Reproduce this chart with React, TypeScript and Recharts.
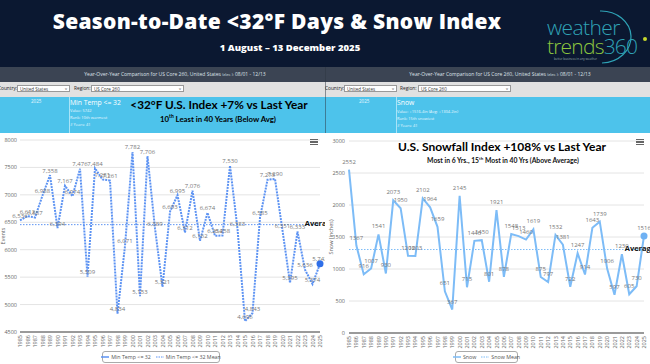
import React from 'react';
import { LineChart, Line, XAxis, YAxis, CartesianGrid, LabelList } from 'recharts';

const years = ['1985','1986','1987','1988','1989','1990','1991','1992','1993','1994','1995','1996','1997','1998','1999','2000','2001','2002','2003','2004','2005','2006','2007','2008','2009','2010','2011','2012','2013','2014','2015','2016','2017','2018','2019','2020','2021','2022','2023','2024','2025'];
const minTempDays = [6536, 6612, 6587, 6988, 7358, 6394, 7167, 6974, 7476, 5509, 7484, 7281, 7261, 4834, 6071, 7782, 5153, 7706, 6389, 5321, 6693, 6995, 6312, 7076, 6162, 6674, 6254, 6258, 7530, 6383, 4696, 4843, 6585, 7275, 7290, 6351, 5395, 6333, 5636, 5374, 5742];
const minTempMean = 6457;
const snowInches = [2552, 1367, 916, 1007, 1541, 930, 2073, 1950, 1208, 1203, 2102, 1964, 1659, 651, 367, 2145, 715, 1440, 1450, 801, 1921, 878, 1548, 1513, 1460, 1619, 875, 797, 1532, 1381, 722, 1247, 914, 1643, 1739, 1006, 597, 1230, 605, 730, 1516];
const snowMean = 1304.2;
const tempTicks = [4500, 5000, 5500, 6000, 6500, 7000, 7500, 8000];
const snowTicks = [0, 500, 1000, 1500, 2000, 2500, 3000];

const tempData = years.map((y, i) => ({ year: y, v: minTempDays[i], mean: minTempMean }));
const snowData = years.map((y, i) => ({ year: y, v: snowInches[i], mean: snowMean }));

const FONT = '"Open Sans", Lato, sans-serif';
const LAST = years.length - 1;
const TEMP_BLUE = '#5d93f3';
const SNOW_BLUE = '#7dbcf7';

const getXY = (p: any) => ({ x: p.x ?? p.viewBox?.x, y: p.y ?? p.viewBox?.y });

const YearTick = (props: any) => {
  const { x, y, payload } = props;
  return (
    <text x={x} y={y} transform={`rotate(-90 ${x} ${y})`} textAnchor="end" dy={2} fontSize={5.5} fill="#666" fontFamily={FONT}>
      {payload.value}
    </text>
  );
};

const makeValueLabel = (fmt: (v: number) => string, off: number) => (props: any) => {
  const { x, y } = getXY(props);
  if (x == null || y == null) return null;
  return (
    <text x={x} y={y - off} textAnchor="middle" fontSize={6} fill="#777" fontFamily={FONT}>
      {fmt(Number(props.value))}
    </text>
  );
};

const makeAverageLabel = (dx: number) => (props: any) => {
  const { x, y } = getXY(props);
  if (props.index !== LAST || x == null) return null;
  return (
    <text x={x + dx} y={y + 1.5} textAnchor="middle" fontSize={7.5} fontWeight={700} fill="#111" fontFamily={FONT}>
      Average
    </text>
  );
};

const lastDot = (color: string) => (props: any) => {
  const { cx, cy, index } = props;
  if (index !== LAST) return <g key={`d${index}`} />;
  return <circle key={`d${index}`} cx={cx} cy={cy} r={3.5} fill={color} />;
};

const axisTitle = (text: string, x: number) => (props: any) => {
  const vb = props.viewBox || {};
  const cy = vb.y + vb.height / 2;
  return (
    <text x={x} y={cy} transform={`rotate(-90 ${x} ${cy})`} textAnchor="middle" fontSize={5.5} fill="#666" fontFamily={FONT}>
      {text}
    </text>
  );
};

const Menu = ({ left, top }: { left: number; top: number }) => (
  <div style={{ position: 'absolute', left, top, width: 8 }}>
    {[0, 1, 2].map((k) => (
      <div key={k} style={{ height: 1.3, background: '#666', marginBottom: 1.2 }} />
    ))}
  </div>
);

const Select = ({ left, width, text }: { left: number; width: number; text: string }) => (
  <div style={{ position: 'absolute', left, top: 85, width, height: 7, background: '#fff', border: '0.5px solid #999', boxSizing: 'border-box', fontSize: 4.5, lineHeight: '6px', paddingLeft: 2, color: '#333', fontFamily: FONT, whiteSpace: 'nowrap' }}>
    {text}
    <span style={{ position: 'absolute', right: 2, top: 0, fontSize: 4 }}>v</span>
  </div>
);

const txt = (left: number, top: number, content: React.ReactNode, style: React.CSSProperties = {}) => (
  <div style={{ position: 'absolute', left, top, whiteSpace: 'nowrap', fontFamily: FONT, ...style }}>{content}</div>
);

const centered = (cx: number, top: number, content: React.ReactNode, style: React.CSSProperties = {}) => (
  <div style={{ position: 'absolute', left: cx - 250, width: 500, top, textAlign: 'center', whiteSpace: 'nowrap', fontFamily: FONT, ...style }}>{content}</div>
);

const Legend = ({ left, width, items }: { left: number; width: number; items: { label: string; dashed: boolean; color: string }[] }) => (
  <div style={{ position: 'absolute', left, top: 351, width, height: 12, border: '0.8px solid #aaa', borderRadius: 3, boxSizing: 'border-box', display: 'flex', alignItems: 'center', justifyContent: 'center', gap: 5, fontFamily: FONT, fontSize: 5.3, color: '#555', background: '#fff', whiteSpace: 'nowrap' }}>
    {items.map((it) => (
      <div key={it.label} style={{ display: 'flex', alignItems: 'center', gap: 2, whiteSpace: 'nowrap' }}>
        <svg width={8} height={4}><line x1={0} y1={2} x2={8} y2={2} stroke={it.color} strokeWidth={it.dashed ? 1 : 1.5} strokeDasharray={it.dashed ? '1.5 1' : undefined} /></svg>
        <span>{it.label}</span>
      </div>
    ))}
  </div>
);

const Panel = ({ left, width, cx }: { left: number; width: number; cx: number }) => (
  <>
    <div style={{ position: 'absolute', left, top: 67, width, height: 15, background: '#3b4453' }} />
    {centered(cx, 71, <span>Year-Over-Year Comparison for US Core 260, United States <span style={{ fontSize: 3.5 }}>(elev. ):</span> 08/01 - 12/13</span>, { fontSize: 5, color: '#dfe3ea' })}
    <div style={{ position: 'absolute', left, top: 82, width, height: 15, background: '#e1e1e1' }} />
    <div style={{ position: 'absolute', left, top: 97, width, height: 36, background: '#4dc3eb' }} />
  </>
);

export default function App() {
  return (
    <div style={{ position: 'absolute', left: 0, top: 0, width: 650, height: 364, overflow: 'hidden', background: '#fff', fontFamily: FONT }}>
      {/* header */}
      <div style={{ position: 'absolute', left: 0, top: 0, width: 650, height: 67, background: '#0b1831' }} />
      {centered(277, 7, 'Season-to-Date <32°F Days & Snow Index', { fontSize: 21, fontWeight: 800, color: '#fff', letterSpacing: 0.3 })}
      {centered(290, 41, '1 August – 13 December 2025', { fontSize: 9.5, fontWeight: 800, color: '#fff' })}
      <svg style={{ position: 'absolute', left: 540, top: 5 }} width={110} height={62}>
        <text x={7} y={30} fontSize={21} fontWeight={300} fill="#2fa3b6" fontFamily={FONT} letterSpacing={-0.6}>weather</text>
        <text x={7} y={49} fontSize={21} fontWeight={300} fontFamily={FONT} letterSpacing={-0.8}>
          <tspan fill="#8dc63f">trends</tspan>
          <tspan fill="#2fa3b6">360</tspan>
        </text>
        <path d="M 60 6 A 30 26 0 1 1 62 58" fill="none" stroke="#2fa3b6" strokeWidth={1.2} />
        <circle cx={105} cy={34} r={2} fill="#c7d82c" />
        <text x={14} y={55} fontSize={3} fill="#9aa" fontFamily={FONT}>better business in any weather</text>
      </svg>

      {/* panels top bars */}
      <Panel left={0} width={325} cx={175} />
      <Panel left={325} width={325} cx={500} />
      <div style={{ position: 'absolute', left: 324.5, top: 67, width: 1, height: 66, background: '#2d3542', opacity: 0.5 }} />

      {/* left dropdown row */}
      {txt(-2, 85, 'Country:', { fontSize: 4.8, color: '#222' })}
      <Select left={17} width={53} text="United States" />
      {txt(74, 85, 'Region:', { fontSize: 4.8, color: '#222' })}
      <Select left={91} width={93} text="US Core 260" />
      {/* right dropdown row */}
      {txt(325, 85, 'Country:', { fontSize: 4.8, color: '#222' })}
      <Select left={344} width={53} text="United States" />
      {txt(400, 85, 'Region:', { fontSize: 4.8, color: '#222' })}
      <Select left={418} width={93} text="US Core 260" />

      {/* left blue band */}
      {txt(31, 98, '2025', { fontSize: 4.5, color: '#eaf8ff' })}
      <div style={{ position: 'absolute', left: 69, top: 97, width: 0.8, height: 36, background: '#a9e3f7' }} />
      {txt(70, 98, 'Min Temp <= 32', { fontSize: 6.8, color: '#fff' })}
      {txt(70, 108, 'Value: 5742', { fontSize: 4, color: '#eaf8ff' })}
      {txt(70, 115, 'Rank: 10th warmest', { fontSize: 4, color: '#eaf8ff' })}
      {txt(70, 122, '# Years: 41', { fontSize: 4, color: '#eaf8ff' })}
      {centered(219, 97, '<32°F U.S. Index +7% vs Last Year', { fontSize: 11.8, fontWeight: 700, color: '#000', fontFamily: 'Lato, sans-serif' })}
      {centered(218, 113, <span>10<sup style={{ fontSize: 5 }}>th</sup> Least in 40 Years (Below Avg)</span>, { fontSize: 7.8, fontWeight: 700, color: '#000', fontFamily: 'Lato, sans-serif' })}

      {/* right blue band */}
      {txt(359, 98, '2025', { fontSize: 4.5, color: '#eaf8ff' })}
      <div style={{ position: 'absolute', left: 396, top: 97, width: 0.8, height: 36, background: '#a9e3f7' }} />
      {txt(397, 98, 'Snow', { fontSize: 6.8, color: '#fff' })}
      {txt(397, 108.5, 'Value: +1516.4in (Avg: +1304.2in)', { fontSize: 4, color: '#eaf8ff' })}
      {txt(397, 115.5, 'Rank: 15th snowiest', { fontSize: 4, color: '#eaf8ff' })}
      {txt(397, 122.5, '# Years: 41', { fontSize: 4, color: '#eaf8ff' })}

      {/* left chart */}
      <div style={{ position: 'absolute', left: 0, top: 133 }}>
        <LineChart width={325} height={222} data={tempData} margin={{ top: 7, right: 5, bottom: 0, left: 0 }}>
          <CartesianGrid vertical={false} stroke="#e4e4e4" />
          <XAxis dataKey="year" interval={0} height={23} tick={<YearTick />} tickLine={false} tickSize={0} tickMargin={3} axisLine={{ stroke: '#9a9a9a', strokeWidth: 2 }} />
          <YAxis width={20} domain={[4500, 8000]} ticks={tempTicks} interval={0} tick={{ fontSize: 5.5, fill: '#666', fontFamily: FONT }} axisLine={false} tickLine={false} tickSize={1} tickMargin={2} label={axisTitle('Events', 5)} />
          <Line dataKey="mean" stroke={TEMP_BLUE} strokeWidth={1} strokeDasharray="1.5 1.5" dot={false} isAnimationActive={false}>
            <LabelList dataKey="mean" content={makeAverageLabel(0)} />
          </Line>
          <Line dataKey="v" stroke={TEMP_BLUE} strokeWidth={2} strokeDasharray="2 1" dot={lastDot('#2f6fe8')} isAnimationActive={false}>
            <LabelList dataKey="v" content={makeValueLabel((v) => v.toLocaleString('en-US'), 2.5)} />
          </Line>
        </LineChart>
      </div>
      <Menu left={310} top={139} />
      <Legend left={102} width={118} items={[{ label: 'Min Temp <= 32', dashed: false, color: TEMP_BLUE }, { label: 'Min Temp <= 32 Mean', dashed: true, color: TEMP_BLUE }]} />

      {/* right chart */}
      <div style={{ position: 'absolute', left: 325, top: 133 }}>
        <LineChart width={325} height={223} data={snowData} margin={{ top: 8, right: 6, bottom: 0, left: 0 }}>
          <CartesianGrid vertical={false} stroke="#e4e4e4" />
          <XAxis dataKey="year" interval={0} height={23} tick={<YearTick />} tickLine={false} tickSize={0} tickMargin={3} axisLine={{ stroke: '#9a9a9a', strokeWidth: 2 }} />
          <YAxis width={24} domain={[0, 3000]} ticks={snowTicks} interval={0} tick={{ fontSize: 5.5, fill: '#666', fontFamily: FONT }} axisLine={false} tickLine={false} tickSize={2} tickMargin={2} label={axisTitle('Snow (inches)', 8)} />
          <Line dataKey="mean" stroke={SNOW_BLUE} strokeWidth={1} strokeDasharray="1.5 1.5" dot={false} isAnimationActive={false}>
            <LabelList dataKey="mean" content={makeAverageLabel(-4)} />
          </Line>
          <Line dataKey="v" stroke={SNOW_BLUE} strokeWidth={2} dot={lastDot('#6fb1f3')} isAnimationActive={false}>
            <LabelList dataKey="v" content={makeValueLabel((v) => String(v), 6)} />
          </Line>
        </LineChart>
      </div>
      {centered(502, 139, 'U.S. Snowfall Index +108% vs Last Year', { fontSize: 12, fontWeight: 700, color: '#000', fontFamily: 'Lato, sans-serif' })}
      {centered(503, 156, <span>Most in 6 Yrs., 15<sup style={{ fontSize: 4.5 }}>th</sup> Most in 40 Yrs (Above Average)</span>, { fontSize: 6.8, fontWeight: 700, color: '#111', fontFamily: 'Lato, sans-serif' })}
      <Menu left={636} top={139} />
      <Legend left={455} width={63} items={[{ label: 'Snow', dashed: false, color: SNOW_BLUE }, { label: 'Snow Mean', dashed: true, color: SNOW_BLUE }]} />
    </div>
  );
}
